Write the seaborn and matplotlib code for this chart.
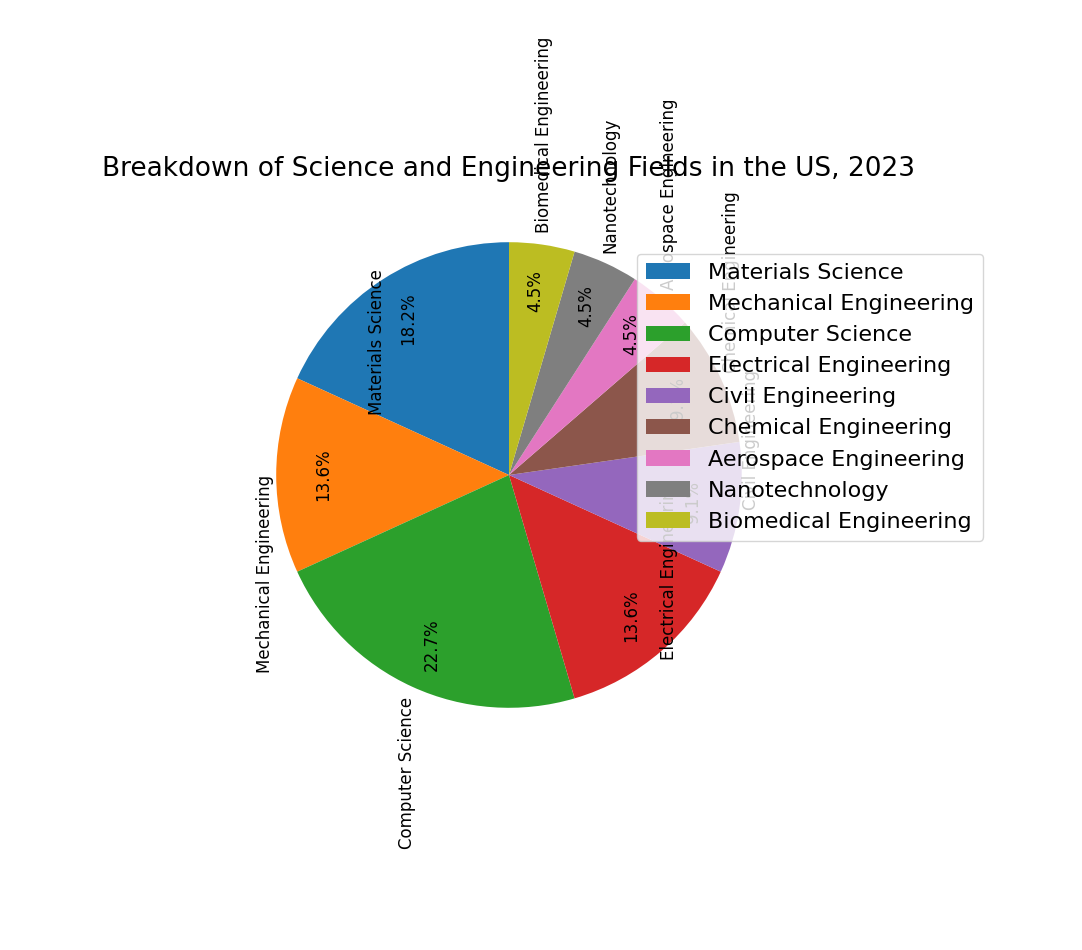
import matplotlib
matplotlib.use("Agg")
import matplotlib.pyplot as plt
import seaborn as sns

# fields and their share
fields = ["Materials Science", "Mechanical Engineering", "Computer Science",
          "Electrical Engineering", "Civil Engineering", "Chemical Engineering",
          "Aerospace Engineering", "Nanotechnology", "Biomedical Engineering"]
counts = [4, 3, 5, 3, 2, 2, 1, 1, 1]
title = "Breakdown of Science and Engineering Fields in the US, 2023"

colors = sns.color_palette("tab10", len(fields))

fig = plt.figure(figsize=(10.82, 9.5), dpi=100)
ax = fig.add_axes([218 / 1082, 1 - 766 / 950, 582 / 1082, 582 / 950])

wedges, texts, autotexts = ax.pie(counts, labels=fields, colors=colors,
                                  autopct="%1.1f%%", startangle=90,
                                  labeldistance=1.05, pctdistance=0.8,
                                  textprops={"rotation": 90, "rotation_mode": "anchor",
                                             "fontsize": 12})
ax.set_title(title, fontsize=19)
ax.legend(wedges, fields, loc="upper right", fontsize=16, borderaxespad=0,
          bbox_to_anchor=(983 / 1082, 1 - 254 / 950), bbox_transform=fig.transFigure)

plt.savefig("out.png", dpi=100)
